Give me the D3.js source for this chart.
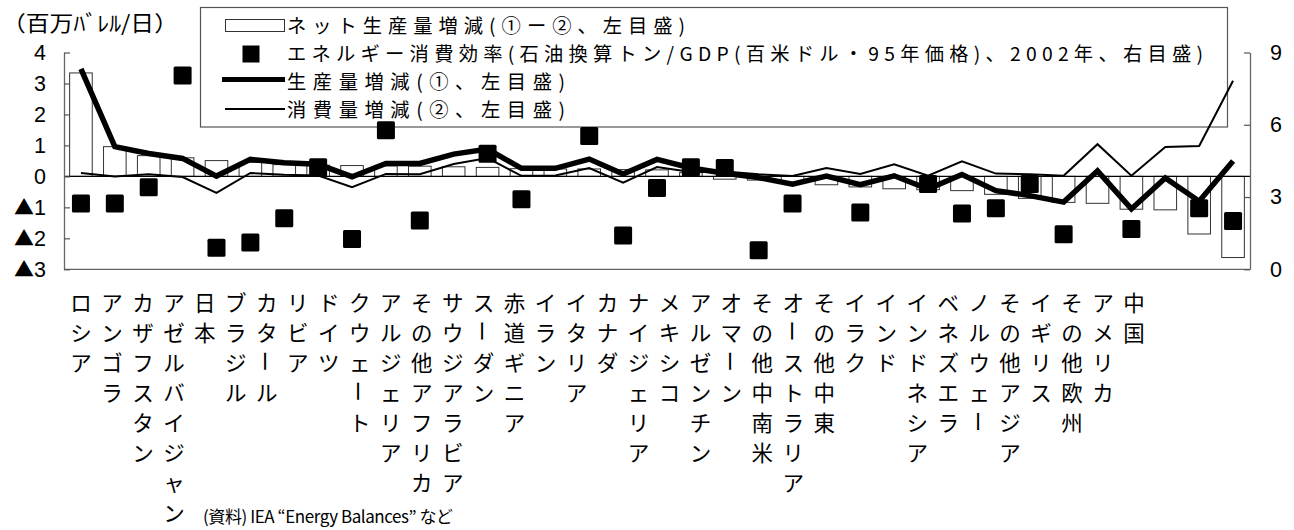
<!DOCTYPE html>
<html><head><meta charset="utf-8">
<script src="https://cdn.jsdelivr.net/npm/d3@7"></script>
<style>body{margin:0;background:#fff}svg{display:block}</style>
</head><body><svg id="chart" width="1294" height="530"></svg>
<script>
// Countries / regions, sorted by net production change
const categories = ["ロシア","アンゴラ","カザフスタン","アゼルバイジャン","日本","ブラジル","カタール","リビア","ドイツ","クウェート","アルジェリア","その他アフリカ","サウジアラビア","スーダン","赤道ギニア","イラン","イタリア","カナダ","ナイジェリア","メキシコ","アルゼンチン","オマーン","その他中南米","オーストラリア","その他中東","イラク","インド","インドネシア","ベネズエラ","ノルウェー","その他アジア","イギリス","その他欧州","アメリカ","中国"];

// Net production change (①−②), million barrels/day, left axis
const netChange = [3.34,0.96,0.67,0.60,0.51,0.45,0.38,0.36,0.35,0.34,0.33,0.31,0.29,0.25,0.24,0.24,0.22,0.21,0.12,-0.09,-0.12,-0.21,-0.27,-0.34,-0.40,-0.43,-0.46,-0.58,-0.71,-0.84,-0.87,-1.06,-1.08,-1.86,-2.62];
// Production change (①), left axis
const productionChange = [3.47,0.96,0.74,0.58,0.01,0.55,0.44,0.39,-0.01,0.42,0.42,0.72,0.88,0.26,0.26,0.56,0.08,0.55,0.27,0.10,-0.04,-0.25,0.01,-0.27,0.02,-0.41,0.06,-0.46,-0.62,-0.83,0.18,-1.05,-0.05,-0.80,0.50];
// Consumption change (②), left axis
const consumptionChange = [0.11,0.00,0.07,-0.02,-0.53,0.11,0.05,0.03,-0.35,0.08,0.07,0.40,0.59,0.02,0.03,0.27,-0.20,0.30,0.14,0.16,0.07,0.01,0.27,0.08,0.39,0.02,0.49,0.09,0.07,0.02,1.04,0.02,0.95,0.98,3.09];
// Energy intensity (oil-equivalent tons / GDP, 2002), right axis; null = not shown
const energyIntensity = [2.73,2.73,3.41,8.05,0.89,1.11,2.12,4.24,1.26,5.77,2.03,null,4.80,2.91,null,5.53,1.40,3.38,4.24,4.21,0.79,2.73,null,2.36,null,3.54,2.32,2.53,3.54,1.46,null,1.67,null,2.53,2.01];

const leftTicks = [4,3,2,1,0,-1,-2,-3];
const rightTicks = [0,3,6,9];
const legendLabels = [
  "ネット生産量増減(①ー②、左目盛)",
  "エネルギー消費効率(石油換算トン/GDP(百米ドル・95年価格)、2002年、右目盛)",
  "生産量増減(①、左目盛)",
  "消費量増減(②、左目盛)"
];
const unitLabel = "（百万ﾊﾞﾚﾙ/日）";
const sourceNote = "(資料) IEA “Energy Balances” など";

const JP = "'Noto Sans CJK JP', sans-serif";
const LAT = "'Liberation Sans', Arial, sans-serif";

const svg = d3.select("#chart");
const P = {left: 64, right: 1250, top: 52.5, bottom: 269.3};

const x = d3.scaleBand().domain(categories).range([P.left, P.right]).paddingInner(1/3).paddingOuter(1/6);
const cx = c => x(c) + x.bandwidth() / 2;
const yL = d3.scaleLinear().domain([-3, 4]).range([P.bottom, P.top]);
const yR = d3.scaleLinear().domain([0, 9]).range([P.bottom, P.top]);
const labelX = d3.scalePoint().domain(categories).range([81, 1134]);

// Legend box (drawn first so plotted marks sit on top)
const lg = svg.append("g");
lg.append("rect").attr("x", 200.5).attr("y", 7.5).attr("width", 1027).attr("height", 119.5)
  .attr("fill", "#fff").attr("stroke", "#555").attr("stroke-width", 1.2);
const rowY = [24.5, 52.5, 80.5, 108.5];
lg.append("rect").attr("x", 225.5).attr("y", 19.5).attr("width", 59).attr("height", 12)
  .attr("fill", "#fff").attr("stroke", "#333").attr("stroke-width", 1);
lg.append("rect").attr("x", 242.5).attr("y", 45.5).attr("width", 17).attr("height", 17).attr("fill", "#000");
lg.append("line").attr("x1", 222).attr("x2", 285).attr("y1", 79.5).attr("y2", 79.5)
  .attr("stroke", "#000").attr("stroke-width", 5);
lg.append("line").attr("x1", 225).attr("x2", 285).attr("y1", 109).attr("y2", 109)
  .attr("stroke", "#000").attr("stroke-width", 2);
const legendWidths = [398, 916, 278, 278];
legendLabels.forEach((t, i) => {
  lg.append("text").attr("x", 287).attr("y", rowY[i]).attr("dominant-baseline", "central")
    .attr("font-family", JP).attr("font-size", 19.3).attr("fill", "#000")
    .attr("textLength", legendWidths[i]).attr("lengthAdjust", "spacing").text(t);
});

// Plot frame
const frame = svg.append("g").attr("fill", "none").attr("stroke", "#666").attr("stroke-width", 1.3);
frame.append("line").attr("x1", P.left).attr("x2", P.right).attr("y1", P.bottom).attr("y2", P.bottom);

// Net change bars
svg.append("g").selectAll("rect").data(netChange).join("rect")
  .attr("x", (d, i) => x(categories[i]))
  .attr("y", d => yL(Math.max(0, d)))
  .attr("width", x.bandwidth())
  .attr("height", d => Math.abs(yL(d) - yL(0)))
  .attr("fill", "#fff").attr("stroke", "#333").attr("stroke-width", 1);

// Zero line
svg.append("line").attr("x1", P.left).attr("x2", P.right).attr("y1", yL(0)).attr("y2", yL(0))
  .attr("stroke", "#000").attr("stroke-width", 1.4);

// Axes with inward ticks
const axL = svg.append("g").attr("transform", `translate(${P.left},0)`)
  .call(d3.axisLeft(yL).tickValues(leftTicks).tickSize(-6).tickSizeOuter(0).tickPadding(18).tickFormat(() => ""));
const axR = svg.append("g").attr("transform", `translate(${P.right},0)`)
  .call(d3.axisRight(yR).tickValues(rightTicks).tickSize(-6).tickSizeOuter(0).tickPadding(20).tickFormat(d => d));
[axL, axR].forEach(a => {
  a.select(".domain").attr("stroke", "#666").attr("stroke-width", 1.3);
  a.selectAll(".tick line").attr("stroke", "#555").attr("stroke-width", 1.2);
});
axR.selectAll(".tick text").attr("font-family", LAT).attr("font-size", 21.5).attr("fill", "#000");
// Left tick labels: negative values shown with ▲
axL.selectAll(".tick").each(function(d) {
  const t = d3.select(this).select("text").attr("font-family", LAT).attr("font-size", 21.5).attr("fill", "#000");
  if (d < 0) {
    t.append("tspan").attr("font-family", JP).attr("font-size", 20).text("▲");
    t.append("tspan").text(Math.abs(d));
  } else {
    t.text(d);
  }
});

// Production / consumption lines
const line = d3.line().x((d, i) => cx(categories[i])).y(d => yL(d));
svg.append("path").datum(consumptionChange).attr("d", line)
  .attr("fill", "none").attr("stroke", "#000").attr("stroke-width", 2);
svg.append("path").datum(productionChange).attr("d", line)
  .attr("fill", "none").attr("stroke", "#000").attr("stroke-width", 5.5);

// Energy intensity markers
const sq = 18;
svg.append("g").selectAll("rect")
  .data(energyIntensity.map((v, i) => ({v, c: categories[i]})).filter(d => d.v != null))
  .join("rect")
  .attr("x", d => cx(d.c) - sq / 2).attr("y", d => yR(d.v) - sq / 2)
  .attr("width", sq).attr("height", sq).attr("rx", 1.5).attr("fill", "#000");

// Unit label
svg.append("text").attr("x", 2).attr("y", 21).attr("dominant-baseline", "central")
  .attr("font-family", JP).attr("font-size", 21.5).attr("fill", "#000")
  .attr("textLength", 176).attr("lengthAdjust", "spacingAndGlyphs").text(unitLabel);

// Vertical category labels (one glyph per row; the long-vowel mark is turned upright)
const lab = svg.append("g").attr("font-family", JP).attr("font-size", 21.5).attr("fill", "#000")
  .attr("text-anchor", "middle");
categories.forEach(c => {
  Array.from(c).forEach((ch, k) => {
    const lx = labelX(c), ly = 301 + 30.1 * k;
    const t = lab.append("text").attr("x", lx).attr("y", ly)
      .attr("dominant-baseline", "central").text(ch);
    if (ch === "ー") t.attr("transform", `rotate(90,${lx},${ly})`);
  });
});

// Source note
svg.append("text").attr("x", 203).attr("y", 515).attr("dominant-baseline", "central")
  .attr("font-family", JP).attr("font-size", 17).attr("fill", "#000")
  .attr("textLength", 250).attr("lengthAdjust", "spacing").text(sourceNote);
</script></body></html>
